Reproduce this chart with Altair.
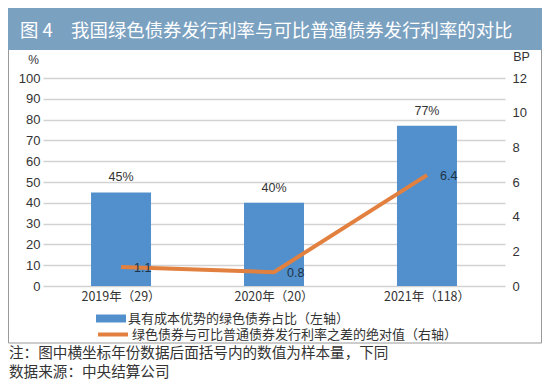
import altair as alt
import pandas as pd

# ---- data ----
years = ["2019年（29）", "2020年（20）", "2021年（118）"]
share = [45, 40, 77]                 # 具有成本优势的绿色债券占比 (%)
share_labels = ["45%", "40%", "77%"]
diff = [1.1, 0.8, 6.4]               # 利率之差的绝对值 (BP)
diff_labels = ["1.1", "0.8", "6.4"]

left_ticks = list(range(0, 101, 10))
right_ticks = list(range(0, 13, 2))

series_bar = "具有成本优势的绿色债券占比（左轴）"
series_line = "绿色债券与可比普通债券发行利率之差的绝对值（右轴）"
title_text = "图 4\u3000我国绿色债券发行利率与可比普通债券发行利率的对比"
note1 = "注：图中横坐标年份数据后面括号内的数值为样本量，下同"
note2 = "数据来源：中央结算公司"

BLUE = "#5190cc"
ORANGE = "#e2803f"
BAND = "#7ba1c1"
CJK = "Noto Sans CJK SC"
NUM = "Liberation Sans"

df = pd.DataFrame({
    "year": years, "share": share, "share_label": share_labels,
    "diff": diff, "diff_label": diff_labels,
    "s1": [series_bar] * 3, "s2": [series_line] * 3,
})

W, H = 462, 208

x_enc = alt.X("year:N", sort=None,
              scale=alt.Scale(paddingInner=0, paddingOuter=0.01),
              axis=alt.Axis(title=None, labelAngle=0, labelFont=CJK, labelFontSize=12.5,
                            labelColor="#333", labelPadding=4, ticks=False, domain=False,
                            grid=False))

left_axis = alt.Axis(values=left_ticks, title="%", titleAngle=0, titleX=-10, titleY=-12,
                     titleFontWeight="normal", titleFont=NUM, titleFontSize=12,
                     titleColor="#333", titleAlign="center",
                     labelFont=NUM, labelFontSize=13, labelColor="#333", labelOverlap=False,
                     labelPadding=3, ticks=False, domain=False, grid=True,
                     gridColor="#d2d2d2", gridWidth=1.6)
y_left = alt.Y("share:Q", scale=alt.Scale(domain=[0, 100]), axis=left_axis)

LEG = dict(title=None, orient="none", legendX=60.5, labelFont=CJK, labelFontSize=13,
           labelColor="#333", labelOffset=9.5, labelLimit=0, padding=0, symbolSize=225)

bars = alt.Chart(df).mark_bar(width=60).encode(
    x=x_enc, y=y_left,
    color=alt.Color("s1:N", scale=alt.Scale(domain=[series_bar], range=[BLUE]),
                    legend=alt.Legend(legendY=233, symbolType="M-2,-0.53H2V0.53H-2Z",
                                      symbolStrokeWidth=0, **LEG)),
)

bar_text = alt.Chart(df).mark_text(dy=-15, font=NUM, fontSize=12.5, color="#333").encode(
    x=alt.X("year:N", sort=None), y=y_left, text="share_label:N")

left_layer = alt.layer(bars, bar_text)

right_axis = alt.Axis(orient="right", values=right_ticks, title="BP", titleAngle=0,
                      titleX=16, titleY=-15, titleFontWeight="normal",
                      titleFont=NUM, titleFontSize=12.5, titleColor="#333",
                      titleAlign="center", labelFont=NUM, labelFontSize=13,
                      labelColor="#333", labelOverlap=False, labelPadding=7, ticks=False,
                      domain=False, grid=False)
y_right = alt.Y("diff:Q", scale=alt.Scale(domain=[0, 12]), axis=right_axis)

line = alt.Chart(df).mark_line(strokeWidth=4).encode(
    x=alt.X("year:N", sort=None), y=y_right,
    stroke=alt.Stroke("s2:N", scale=alt.Scale(domain=[series_line], range=[ORANGE]),
                      legend=alt.Legend(legendY=247, symbolType="M-2,0H2",
                                        symbolStrokeWidth=4, **LEG)),
)

line_text = alt.Chart(df).mark_text(dx=13, dy=1, align="left", font=NUM,
                                    fontSize=12.5, color="#1f3347").encode(
    x=alt.X("year:N", sort=None), y=y_right, text="diff_label:N")

right_layer = alt.layer(line, line_text)

# ---- decorations ----
deco = pd.DataFrame({"title": [title_text], "n1": [note1], "n2": [note2]})

band = alt.Chart(deco).mark_rect(color=BAND).encode(
    x=alt.value(-35), x2=alt.value(499), y=alt.value(-70), y2=alt.value(-28))
title = alt.Chart(deco).mark_text(align="left", baseline="middle", font=CJK, fontSize=18.4,
                                  color="white").encode(
    x=alt.value(-23), y=alt.value(-47), text="title:N")

BC = "#9a9a9a"
b_left = alt.Chart(deco).mark_rule(color=BC, strokeWidth=1).encode(
    x=alt.value(-34.5), y=alt.value(-28), y2=alt.value(265))
b_right = alt.Chart(deco).mark_rule(color=BC, strokeWidth=1).encode(
    x=alt.value(498.5), y=alt.value(-28), y2=alt.value(265))
b_bottom = alt.Chart(deco).mark_rule(color=BC, strokeWidth=1).encode(
    x=alt.value(-34.5), x2=alt.value(498.5), y=alt.value(265))

n1 = alt.Chart(deco).mark_text(align="left", baseline="middle", font=CJK, fontSize=14.6,
                               color="#333").encode(
    x=alt.value(-34), y=alt.value(276), text="n1:N")
n2 = alt.Chart(deco).mark_text(align="left", baseline="middle", font=CJK, fontSize=14.6,
                               color="#333").encode(
    x=alt.value(-34), y=alt.value(295), text="n2:N")

chart = alt.layer(band, b_left, b_right, b_bottom, title, n1, n2,
                  left_layer, right_layer).resolve_scale(
    y="independent"
).properties(
    width=W, height=H,
    padding={"left": 35, "top": 70, "right": 37, "bottom": 95},
    autosize=alt.AutoSizeParams(type="none"),
    background="white",
).configure_view(stroke=None)

chart.save("out.html", embed_options={"renderer": "svg", "actions": False})
